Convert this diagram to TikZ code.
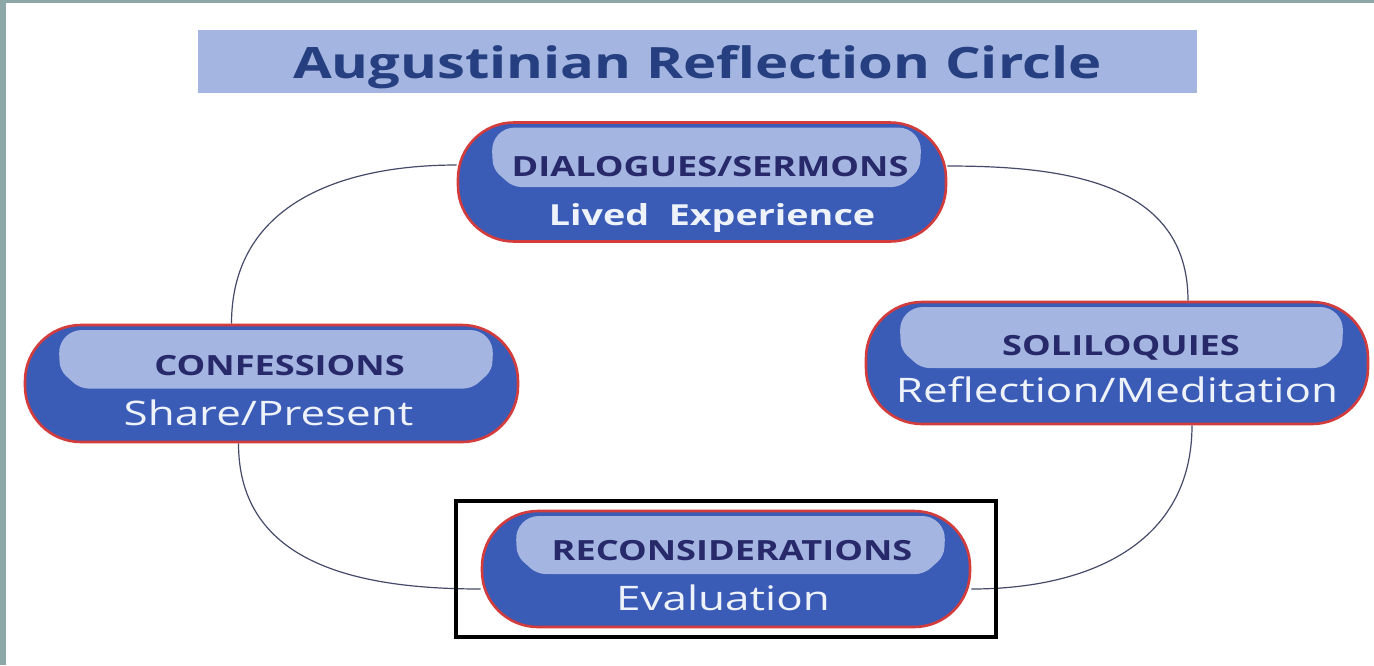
\documentclass[tikz,border=0pt]{standalone}
\usepackage{fontspec}
\setmainfont{Open Sans}[FakeStretch=1.3]
\usetikzlibrary{backgrounds,calc,fit}
\definecolor{nodeblue}{HTML}{3A5BB6}
\definecolor{bandblue}{HTML}{A3B5E0}
\definecolor{rimred}{HTML}{D23C3C}
\definecolor{darkink}{HTML}{27296A}
\definecolor{titleink}{HTML}{263F80}
\definecolor{paleink}{HTML}{EEF2FB}
\definecolor{framegray}{HTML}{8EA8A8}
\definecolor{linkgray}{HTML}{454A68}
\tikzset{
  stage/.style={draw=rimred, line width=1.3pt, fill=nodeblue, rounded corners=28pt,
    inner sep=0pt, path picture={
      \fill[bandblue, rounded corners=4pt]
        ($(path picture bounding box.west)+(55,5)$) --
        ($(path picture bounding box.west)+(35,-13)$) [rounded corners=12pt] --
        ($(path picture bounding box.north west)+(33,5)$) --
        ($(path picture bounding box.north east)+(-24,5)$) [rounded corners=4pt] --
        ($(path picture bounding box.east)+(-26,-13)$) --
        ($(path picture bounding box.east)+(-46,5)$) -- cycle;}},
  headtext/.style={text=darkink, font=\bfseries\fontsize{13.9}{16}\selectfont},
  subtext/.style={text=paleink, font=\fontsize{16.9}{18}\selectfont},
  link/.style={draw=linkgray, line width=0.6pt},
}
\begin{document}
\begin{tikzpicture}[x=0.5pt, y=-0.5pt]
  \useasboundingbox (0,0) rectangle (1374,665);
  % Title bar
  \node[fill=bandblue, minimum width=499.5pt, minimum height=31.5pt, inner sep=0pt,
    text=titleink, text depth=0pt, font=\bfseries\fontsize{21.6}{24}\selectfont]
    (title) at (697.5,61.5) {Augustinian Reflection Circle};
  % The four stages
  \node[stage, minimum width=244pt, minimum height=59.5pt] (dia) at (702,182) {};
  \node[headtext] (dia-head) at ($(dia.center)+(8,-15)$) {DIALOGUES/SERMONS};
  \node[subtext, font=\bfseries\fontsize{14.5}{18}\selectfont] (dia-sub) at ($(dia.center)+(10,36)$) {Lived\ \ Experience};
  \node[stage, minimum width=246.5pt, minimum height=58.5pt] (conf) at (271.5,383.5) {};
  \node[headtext] (conf-head) at ($(conf.center)+(8,-18)$) {CONFESSIONS};
  \node[subtext] (conf-sub) at ($(conf.center)+(-3,29)$) {Share/Present};
  \node[stage, minimum width=251pt, minimum height=61pt] (sol) at (1117,363) {};
  \node[headtext] (sol-head) at ($(sol.center)+(4,-15)$) {SOLILOQUIES};
  \node[subtext] (sol-sub) at ($(sol.center)+(0,27)$) {Reflection/Meditation};
  \node[stage, minimum width=244pt, minimum height=58pt] (rec) at (726,569) {};
  \node[headtext] (rec-head) at ($(rec.center)+(6,-18)$) {RECONSIDERATIONS};
  \node[subtext] (rec-sub) at ($(rec.center)+(-3,29)$) {Evaluation};
  % Highlight box
  \node[draw=black, line width=2pt, fit=(rec), inner xsep=12.25pt, inner ysep=4.5pt] (recframe) {};
  \begin{scope}[on background layer]
    \fill[white] (0,0) rectangle (1374,665);
    \fill[framegray] (0,0) rectangle (6,665);
    \fill[framegray] (0,0) rectangle (1374,3);
    % Circle of links
    \draw[link] ($(dia.west)+(0,-17)$) to[out=180, in=90, looseness=1.1] ($(conf.north)+(-40,0)$);
    \draw[link] ($(dia.east)+(0,-16)$) to[out=0, in=90, looseness=1.1] ($(sol.north)+(71,0)$);
    \draw[link] ($(sol.south)+(75,0)$) to[out=-90, in=0, looseness=1.1] ($(rec.east)+(0,20)$);
    \draw[link] ($(conf.south)+(-33,0)$) to[out=-90, in=180, looseness=1.1] ($(rec.west)+(0,20)$);
  \end{scope}
\end{tikzpicture}
\end{document}
